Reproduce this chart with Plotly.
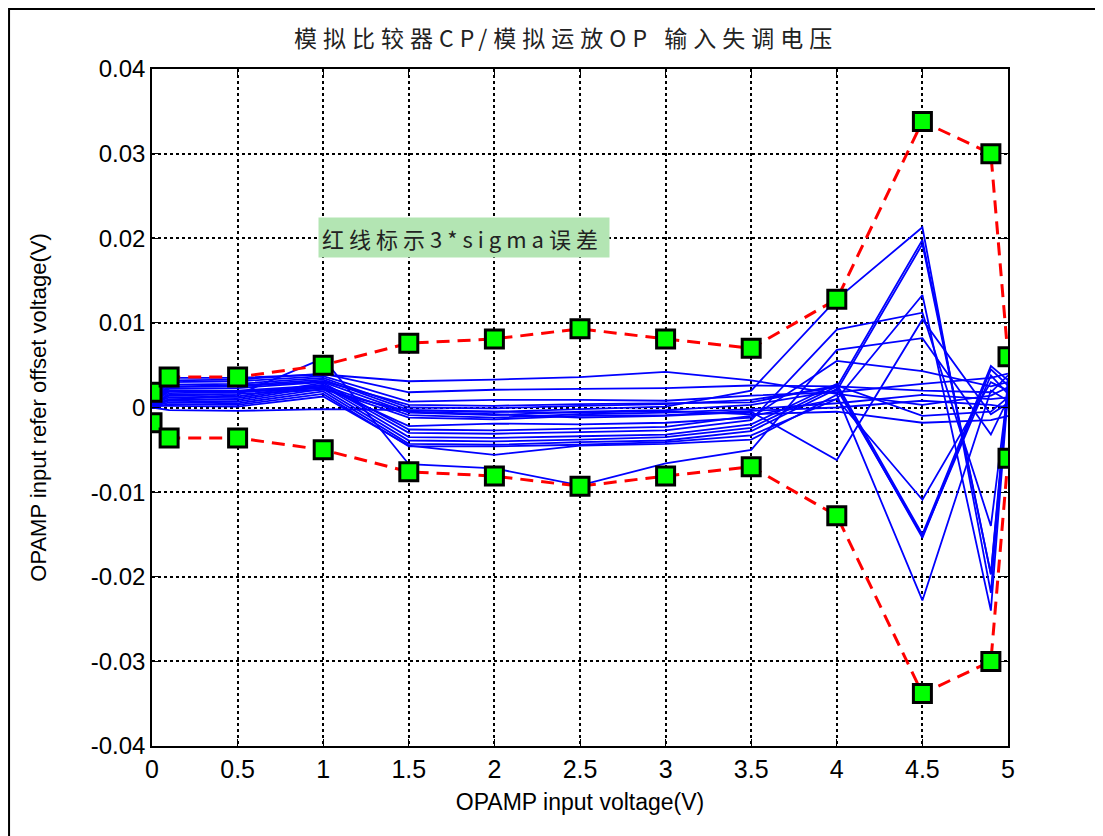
import plotly.graph_objects as go

# ---- data ----
x_vals = [0, 0.1, 0.5, 1, 1.5, 2, 2.5, 3, 3.5, 4, 4.5, 4.9, 5]

upper_3sigma = [0.0018, 0.0036, 0.0036, 0.0050, 0.0076, 0.0081, 0.0093, 0.0081, 0.0070, 0.0128, 0.0338, 0.0300, 0.0060]
lower_3sigma = [-0.0018, -0.0036, -0.0036, -0.0050, -0.0076, -0.0081, -0.0093, -0.0081, -0.0070, -0.0128, -0.0338, -0.0300, -0.0060]

mc_runs = [
    [0.0009, 0.0035, 0.0035, 0.0039, 0.0031, 0.0033, 0.0036, 0.0042, 0.0032, 0.0016, 0.0003, 0.0014, 0.0024],
    [0.0006, 0.0027, 0.0028, 0.0035, 0.0000, -0.0001, 0.0002, 0.0004, 0.0009, 0.0024, 0.0198, -0.0197, 0.0030],
    [0.0005, 0.0025, 0.0026, 0.0033, -0.0003, -0.0005, -0.0002, 0.0001, 0.0020, 0.0128, 0.0213, -0.0219, 0.0035],
    [0.0004, 0.0022, 0.0023, 0.0030, -0.0006, -0.0009, -0.0005, -0.0003, 0.0003, 0.0020, 0.0193, -0.0197, 0.0020],
    [0.0005, 0.0014, 0.0013, 0.0029, -0.0026, -0.0027, -0.0025, -0.0023, -0.0010, 0.0010, 0.0133, -0.0240, 0.0018],
    [0.0004, 0.0012, 0.0011, 0.0027, -0.0030, -0.0031, -0.0029, -0.0027, -0.0015, 0.0092, 0.0112, -0.0140, 0.0022],
    [0.0000, 0.0009, 0.0015, 0.0058, -0.0067, -0.0072, -0.0092, -0.0066, -0.0050, 0.0068, 0.0082, -0.0032, 0.0010],
    [0.0001, 0.0015, 0.0016, 0.0021, -0.0005, -0.0008, -0.0012, -0.0010, -0.0005, -0.0062, 0.0104, -0.0008, 0.0005],
    [0.0006, 0.0019, 0.0019, 0.0024, -0.0022, -0.0019, -0.0020, -0.0018, -0.0012, 0.0055, 0.0043, 0.0025, 0.0030],
    [0.0003, 0.0010, 0.0009, 0.0025, -0.0035, -0.0036, -0.0034, -0.0032, -0.0020, 0.0028, -0.0150, 0.0049, 0.0032],
    [0.0002, 0.0008, 0.0007, 0.0022, -0.0039, -0.0040, -0.0038, -0.0035, -0.0024, 0.0025, -0.0154, 0.0045, 0.0026],
    [0.0001, 0.0006, 0.0005, 0.0019, -0.0043, -0.0044, -0.0041, -0.0039, -0.0028, 0.0022, -0.0152, 0.0038, 0.0016],
    [0.0002, 0.0002, 0.0001, 0.0013, -0.0045, -0.0056, -0.0045, -0.0043, -0.0038, 0.0015, -0.0228, 0.0020, 0.0008],
    [0.0000, 0.0004, 0.0003, 0.0016, -0.0046, -0.0046, -0.0044, -0.0041, -0.0033, 0.0010, -0.0109, 0.0030, 0.0020],
    [0.0003, 0.0024, 0.0025, 0.0031, 0.0003, 0.0002, 0.0004, 0.0005, 0.0006, 0.0026, -0.0010, -0.0005, 0.0012],
    [0.0003, 0.0020, 0.0020, 0.0026, -0.0009, -0.0012, -0.0008, -0.0006, -0.0002, 0.0005, 0.0015, 0.0010, 0.0012],
    [0.0000, -0.0003, -0.0004, -0.0002, -0.0003, -0.0005, -0.0006, -0.0004, -0.0008, -0.0005, -0.0018, -0.0015, -0.0010],
    [0.0002, 0.0017, 0.0018, 0.0023, -0.0012, -0.0014, -0.0010, -0.0009, -0.0004, 0.0000, 0.0008, 0.0003, 0.0000],
    [0.0008, 0.0032, 0.0033, 0.0040, 0.0018, 0.0021, 0.0022, 0.0023, 0.0026, 0.0025, 0.0020, 0.0018, 0.0038],
    [0.0007, 0.0030, 0.0031, 0.0037, 0.0007, 0.0009, 0.0009, 0.0008, 0.0014, 0.0018, 0.0028, 0.0035, 0.0040],
]

y_tick_vals = [-0.04, -0.03, -0.02, -0.01, 0, 0.01, 0.02, 0.03, 0.04]
y_tick_text = ["-0.04", "-0.03", "-0.02", "-0.01", "0", "0.01", "0.02", "0.03", "0.04"]
x_tick_vals = [0, 0.5, 1, 1.5, 2, 2.5, 3, 3.5, 4, 4.5, 5]
x_tick_text = ["0", "0.5", "1", "1.5", "2", "2.5", "3", "3.5", "4", "4.5", "5"]

title_text = "模拟比较器CP/模拟运放OP 输入失调电压"
note_text = "红线标示3*sigma误差"
x_title = "OPAMP input voltage(V)"
y_title = "OPAMP input refer offset voltage(V)"

fig = go.Figure()

for run in mc_runs:
    fig.add_trace(go.Scatter(x=x_vals, y=run, mode="lines",
                             line=dict(color="#0000ff", width=1.8),
                             showlegend=False, hoverinfo="skip"))

marker_style = dict(symbol="square", size=18, color="#00ff00",
                    line=dict(color="black", width=3))
for band in (upper_3sigma, lower_3sigma):
    fig.add_trace(go.Scatter(x=x_vals, y=band, mode="lines+markers",
                             line=dict(color="#ff0000", width=3, dash="13px,8px"),
                             marker=marker_style, showlegend=False))

fig.add_annotation(x=0.97, y=0.0201, xref="x", yref="y",
                   text='<span style="letter-spacing:5px">' + note_text + '</span>',
                   showarrow=False, xanchor="left", yanchor="middle",
                   align="left", width=284, height=33, borderpad=3,
                   bgcolor="#b3e5b3",
                   font=dict(family="Noto Sans CJK SC", size=22, color="#222222"))

# figure frame
fig.add_shape(type="rect", xref="paper", yref="paper",
              x0=-0.167, x1=1.2, y0=-0.2, y1=1.0886,
              line=dict(color="black", width=2), fillcolor="rgba(0,0,0,0)",
              layer="below")

axis_common = dict(showline=True, linecolor="black", linewidth=1.5, mirror="ticks",
                   ticks="inside", ticklen=7, tickcolor="black",
                   showgrid=True, gridcolor="black", griddash="dot", gridwidth=1.5,
                   zeroline=False)

fig.update_layout(
    width=1103, height=836,
    margin=dict(l=144, r=103, t=61, b=98),
    paper_bgcolor="white", plot_bgcolor="white",
    font=dict(family="Liberation Sans, Arial", color="black"),
    title=dict(text='<span style="letter-spacing:6px">' + title_text + '</span>',
               x=0.506, xanchor="center", y=0.963, yanchor="middle",
               font=dict(family="Noto Sans CJK SC", size=23, color="#222222")),
    xaxis=dict(range=[0, 5], tickvals=x_tick_vals, ticktext=x_tick_text,
               tickfont=dict(size=25, family="Liberation Sans Narrow, Liberation Sans"),
               title=dict(text=x_title, font=dict(size=23), standoff=12),
               **axis_common),
    yaxis=dict(range=[-0.04, 0.04], tickvals=y_tick_vals, ticktext=y_tick_text,
               tickfont=dict(size=24), title=dict(text=y_title, font=dict(size=22), standoff=38),
               **axis_common),
)

fig.write_html("out.html")
